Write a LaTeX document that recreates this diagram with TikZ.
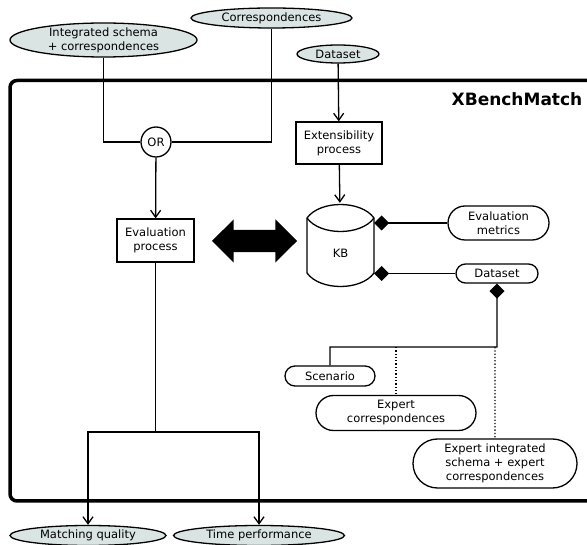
\documentclass[tikz,border=0pt]{standalone}
\usepackage{fontspec}
\setmainfont{DejaVu Sans}
\usetikzlibrary{shapes.geometric,shapes.misc,shapes.arrows,arrows.meta}

\definecolor{termgray}{RGB}{217,228,227}

\tikzset{
  term/.style={ellipse, draw, line width=1.3pt, fill=termgray, align=center, inner xsep=0pt, inner ysep=-2pt},
  proc/.style={rectangle, draw, line width=1.3pt, align=center, inner sep=0pt},
  data/.style={rounded rectangle, draw, line width=1.3pt, align=center, inner sep=0pt},
  link/.style={line width=1.3pt},
  flow/.style={line width=1.3pt, -{Straight Barb[length=7pt,width=10pt]}},
  owns/.style={line width=1.3pt, {Diamond[length=15pt,width=15pt]}-},
}

\begin{document}
\begin{tikzpicture}[x=10pt, y=10pt, font=\fontsize{11.5}{14}\selectfont]

\useasboundingbox (0,0) rectangle (58.7,-54.5);

% outer frame
\draw[line width=3.5pt, rounded corners=7pt] (1.0,-8.05) rectangle (61,-50.1);
\node (title) [font=\fontsize{17}{20}\selectfont\bfseries] at (51.7,-9.9) {XBenchMatch};

% inputs
\node (intsch) [term, minimum width=187pt, minimum height=34pt] at (10.35,-4.0) {Integrated schema\\+ correspondences};
\node (corr) [term, minimum width=161pt, minimum height=20pt] at (27.15,-1.8) {Correspondences};
\node (dsin) [term, minimum width=82pt, minimum height=18pt] at (33.8,-5.4) {Dataset};

\node (orjoin) [circle, draw, line width=1.3pt, minimum size=30pt, inner sep=0pt] at (15.6,-14.2) {OR};

\draw[link] (intsch) |- (orjoin);
\draw[link] (corr) |- (orjoin);

% processes
\node (evalp) [proc, minimum width=77pt, minimum height=43pt] at (15.55,-24.05) {Evaluation\\process};
\node (extp) [proc, minimum width=86pt, minimum height=42pt] at (33.9,-14.3) {Extensibility\\process};

\draw[flow] (orjoin) -- (evalp);
\draw[flow] (dsin) -- (extp);

% knowledge base
\draw[line width=1.3pt] (30.7,-21.8) .. controls (32.0,-20.0) and (36.1,-20.0) .. (37.4,-21.8)
  -- (37.4,-27.3) .. controls (36.1,-29.1) and (32.0,-29.1) .. (30.7,-27.3) -- cycle;
\draw[line width=1.3pt] (30.7,-21.8) .. controls (32.0,-23.6) and (36.1,-23.6) .. (37.4,-21.8);
\node (kb) [minimum width=67pt, minimum height=85pt, inner sep=0pt] at (34.05,-24.55) {};
\node (kbtext) at (34.05,-25.3) {KB};

\draw[flow] (extp) -- (kb);

\node (biarrow) [double arrow, fill=black, inner xsep=0pt, inner ysep=11pt, minimum height=85pt,
  double arrow head extend=10.5pt] at (25.45,-24.1) {};

% outputs of the KB
\node (evalm) [data, minimum width=101pt, minimum height=34pt] at (49.85,-22.3) {Evaluation\\metrics};
\node (dsout) [data, minimum width=82pt, minimum height=19pt] at (49.7,-27.35) {Dataset};

\draw[owns] (kb.east |- evalm) -- (evalm);
\draw[owns] (kb.east |- dsout) -- (dsout);

\node (scen) [data, minimum width=90pt, minimum height=20pt] at (33.0,-37.6) {Scenario};
\node (expc) [data, minimum width=160pt, minimum height=35pt] at (39.6,-41.3) {Expert\\correspondences};
\node (expi) [data, minimum width=164pt, minimum height=49pt] at (49.5,-46.35) {Expert integrated\\schema + expert\\correspondences};

\coordinate (split) at (49.7,-34.7);
\draw[owns] (dsout) -- (split) -| (scen);
\draw[link, dotted] (split -| expc) -- (expc);
\draw[link, dotted] (split -| expi) -- (expi);

% results
\node (mq) [term, minimum width=156pt, minimum height=20pt] at (8.8,-53.55) {Matching quality};
\node (tp) [term, minimum width=171pt, minimum height=20pt] at (25.9,-53.55) {Time performance};

\coordinate (fork) at (15.55,-43.2);
\draw[link] (evalp) -- (fork);
\draw[flow] (fork) -| (mq);
\draw[flow] (fork) -| (tp);

\end{tikzpicture}
\end{document}
